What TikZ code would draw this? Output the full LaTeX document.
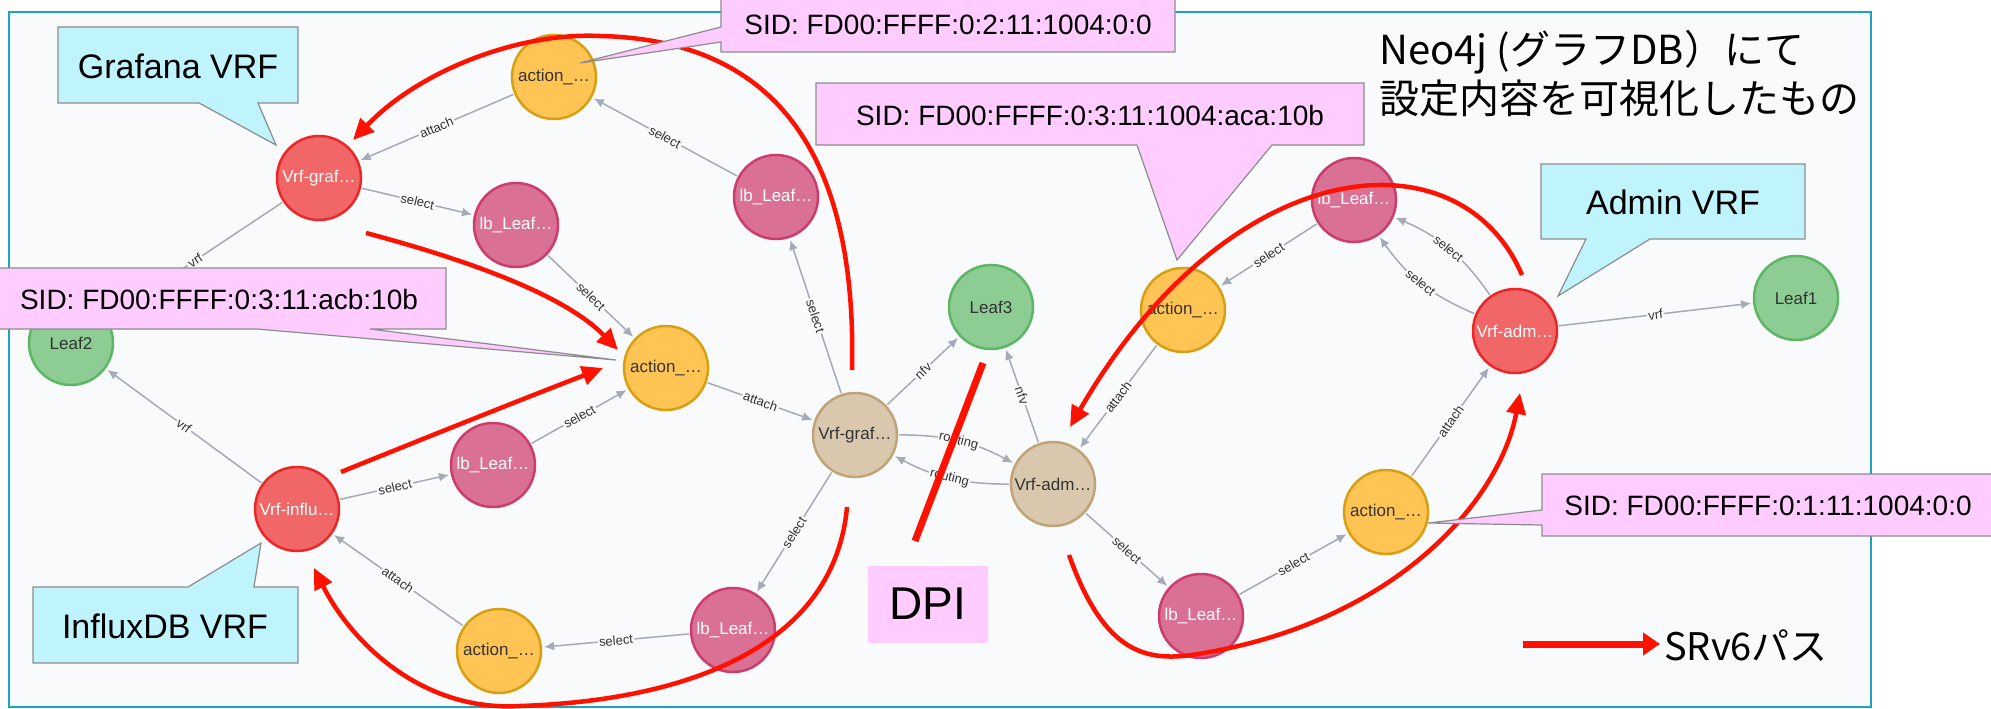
\documentclass[tikz,border=0pt]{standalone}
\usepackage{fontspec}
\setmainfont{Liberation Sans}
\newfontfamily\jpfont{Noto Sans CJK JP}
\usetikzlibrary{arrows.meta,calc}

\definecolor{bgc}{HTML}{F8FAFC}
\definecolor{framec}{HTML}{1CA3BF}
\definecolor{redf}{HTML}{F16667}
\definecolor{redd}{HTML}{EB2728}
\definecolor{pinkf}{HTML}{DA7194}
\definecolor{pinkd}{HTML}{CC3C6C}
\definecolor{orf}{HTML}{FFC454}
\definecolor{ord}{HTML}{D7A013}
\definecolor{grf}{HTML}{8DCC93}
\definecolor{grd}{HTML}{5DB665}
\definecolor{tanf}{HTML}{D9C8AE}
\definecolor{tand}{HTML}{C0A378}
\definecolor{edgec}{HTML}{A5ABB6}
\definecolor{cyanc}{HTML}{C0F4FC}
\definecolor{sidc}{HTML}{FFCCFF}
\definecolor{boxd}{HTML}{8C8C8C}
\definecolor{srred}{HTML}{FF1100}
\definecolor{ntext}{HTML}{333333}

\begin{document}
\begin{tikzpicture}[x=1pt,y=-1pt,
  gnode/.style={circle, minimum size=84pt, inner sep=0pt, line width=2.5pt, font=\fontsize{17}{17}\selectfont},
  vrfred/.style={gnode, fill=redf, draw=redd, text=white},
  lbnode/.style={gnode, fill=pinkf, draw=pinkd, text=white},
  actnode/.style={gnode, fill=orf, draw=ord, text=ntext},
  leafnode/.style={gnode, fill=grf, draw=grd, text=ntext},
  tannode/.style={gnode, fill=tanf, draw=tand, text=ntext},
  edge/.style={draw=edgec, line width=1.5pt, -{Latex[length=10pt,width=9pt]}, shorten >=2pt, shorten <=1pt},
  elab/.style={sloped, fill=bgc, inner sep=1.5pt, font=\fontsize{13}{13}\selectfont, text=ntext},
  srv6/.style={draw=srred, line width=4.5pt, -{Triangle[length=21pt,width=19pt]}},
  callcyan/.style={fill=cyanc, draw=boxd, line width=1.2pt},
  callpink/.style={fill=sidc, draw=boxd, line width=1.2pt},
  bigtxt/.style={font=\fontsize{34}{34}\selectfont, inner sep=0pt},
  sidtxt/.style={font=\fontsize{28}{28}\selectfont, inner sep=0pt},
]
\useasboundingbox (0,0) rectangle (1991,709);
\fill[white] (0,0) rectangle (1991,709);
\draw[framec, line width=2pt, fill=bgc] (9,12) rectangle (1871,707);

% graph nodes
\node[actnode]  (A1) at (554,77)  {action\_…};
\node[vrfred]   (G1) at (319,178) {Vrf-graf…};
\node[lbnode]   (L1) at (516,225) {lb\_Leaf…};
\node[lbnode]   (L2) at (776,197) {lb\_Leaf…};
\node[leafnode] (Leaf2) at (71,343) {Leaf2};
\node[actnode]  (A2) at (666,368) {action\_…};
\node[lbnode]   (L3) at (493,465) {lb\_Leaf…};
\node[vrfred]   (G2) at (297,509) {Vrf-influ…};
\node[actnode]  (A3) at (499,651) {action\_…};
\node[lbnode]   (L4) at (733,630) {lb\_Leaf…};
\node[tannode]  (T1) at (855,435) {Vrf-graf…};
\node[tannode]  (T2) at (1053,484) {Vrf-adm…};
\node[leafnode] (Leaf3) at (991,307) {Leaf3};
\node[actnode]  (A4) at (1183,310) {action\_…};
\node[lbnode]   (L5) at (1354,200) {lb\_Leaf…};
\node[vrfred]   (R3) at (1515,331) {Vrf-adm…};
\node[leafnode] (Leaf1) at (1796,298) {Leaf1};
\node[actnode]  (A5) at (1386,512) {action\_…};
\node[lbnode]   (L6) at (1201,616) {lb\_Leaf…};

% graph edges
\draw[edge] (A1) -- node[elab]{attach} (G1);
\draw[edge] (G1) -- node[elab]{select} (L1);
\draw[edge] (G1) -- node[elab]{vrf} (Leaf2);
\draw[edge] (L1) -- node[elab]{select} (A2);
\draw[edge] (L2) -- node[elab]{select} (A1);
\draw[edge] (T1) -- node[elab]{select} (L2);
\draw[edge] (A2) -- node[elab]{attach} (T1);
\draw[edge] (T1) -- node[elab]{nfv} (Leaf3);
\draw[edge] (T1) to[bend left=14] node[elab]{routing} (T2);
\draw[edge] (T2) to[bend left=14] node[elab]{routing} (T1);
\draw[edge] (T2) -- node[elab]{nfv} (Leaf3);
\draw[edge] (T1) -- node[elab]{select} (L4);
\draw[edge] (L4) -- node[elab]{select} (A3);
\draw[edge] (A3) -- node[elab]{attach} (G2);
\draw[edge] (G2) -- node[elab]{select} (L3);
\draw[edge] (L3) -- node[elab]{select} (A2);
\draw[edge] (G2) -- node[elab]{vrf} (Leaf2);
\draw[edge] (A4) -- node[elab]{attach} (T2);
\draw[edge] (L5) -- node[elab]{select} (A4);
\draw[edge] (R3) to[bend left=16] node[elab]{select} (L5);
\draw[edge] (R3) to[bend right=16] node[elab]{select} (L5);
\draw[edge] (R3) -- node[elab]{vrf} (Leaf1);
\draw[edge] (T2) -- node[elab]{select} (L6);
\draw[edge] (L6) -- node[elab]{select} (A5);
\draw[edge] (A5) -- node[elab]{attach} (R3);

% SRv6 paths
\draw[srv6] (852,370) .. controls (857,160) and (780,40) .. (600,36)
            .. controls (520,32) and (420,70) .. (353,140);
\draw[srv6] (366,233) .. controls (445,254) and (560,290) .. (618,350);
\draw[srv6] (341,472) .. controls (420,440) and (520,400) .. (603,368);
\draw[srv6] (847,507) .. controls (835,640) and (700,700) .. (520,706)
            .. controls (420,712) and (350,640) .. (314,568);
\draw[srv6] (1522,275) .. controls (1460,130) and (1230,150) .. (1070,427);
\draw[srv6] (1069,555) .. controls (1110,670) and (1160,662) .. (1220,650)
            .. controls (1400,614) and (1500,500) .. (1520,393);
\draw[draw=srred, line width=7pt] (983,363) -- (915,541);

% callouts
\draw[callcyan] (58,27) -- (298,27) -- (298,103) -- (258,103) -- (276,145) -- (199,103) -- (58,103) -- cycle;
\node[bigtxt] (tgraf) at (178,66) {Grafana VRF};
\draw[callcyan] (33,587) -- (188,587) -- (261,543) -- (254,587) -- (298,587) -- (298,663) -- (33,663) -- cycle;
\node[bigtxt] (tinf) at (165,626) {InfluxDB VRF};
\draw[callcyan] (1541,164) -- (1805,164) -- (1805,239) -- (1650,239) -- (1558,296) -- (1586,239) -- (1541,239) -- cycle;
\node[bigtxt] (tadm) at (1673,202) {Admin VRF};

\draw[callpink] (-3,268) -- (446,268) -- (446,329) -- (370,329) -- (616,360) -- (257,329) -- (-3,329) -- cycle;
\node[sidtxt] (sid1) at (219,299) {SID: FD00:FFFF:0:3:11:acb:10b};
\draw[callpink] (721,-3) -- (1175,-3) -- (1175,52) -- (721,52) -- (721,42) -- (580,63) -- (721,27) -- cycle;
\node[sidtxt] (sid2) at (948,25) {SID: FD00:FFFF:0:2:11:1004:0:0};
\draw[callpink] (816,83) -- (1364,83) -- (1364,145) -- (1272,145) -- (1177,260) -- (1137,145) -- (816,145) -- cycle;
\node[sidtxt] (sid3) at (1090,115) {SID: FD00:FFFF:0:3:11:1004:aca:10b};
\draw[callpink] (1542,474) -- (1995,474) -- (1995,536) -- (1542,536) -- (1542,525) -- (1428,523) -- (1542,510) -- cycle;
\node[sidtxt] (sid4) at (1768,506) {SID: FD00:FFFF:0:1:11:1004:0:0};

\node[fill=sidc, minimum width=120pt, minimum height=77pt, inner sep=0pt, font=\fontsize{46}{46}\selectfont] (dpi) at (928,604) {DPI};

% title
\node[anchor=base west, inner sep=0pt, font=\jpfont\fontsize{40}{40}\selectfont] (title1) at (1379,64) {Neo4j (グラフDB）にて};
\node[anchor=base west, inner sep=0pt, font=\jpfont\fontsize{40}{40}\selectfont] (title2) at (1379,113) {設定内容を可視化したもの};

% legend
\coordinate (lg1) at (1523,644);
\coordinate (lg2) at (1660,644);
\draw[draw=srred, line width=7pt, -{Triangle[length=17pt,width=22pt]}] (lg1) -- (lg2);
\node[anchor=west, inner sep=0pt, font=\jpfont\fontsize{38}{38}\selectfont] (lgt) at (1664,646) {SRv6パス};
\end{tikzpicture}
\end{document}
